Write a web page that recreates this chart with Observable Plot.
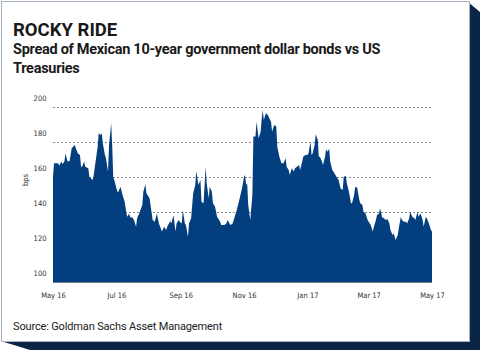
<!DOCTYPE html>
<html>
<head>
<meta charset="utf-8">
<script src="https://cdn.jsdelivr.net/npm/d3@7"></script>
<script src="https://cdn.jsdelivr.net/npm/@observablehq/plot@0.6"></script>
<style>
  html, body { margin: 0; padding: 0; background: #fff; }
  #wrap { position: relative; width: 480px; height: 350px; overflow: hidden; }
  #shadow { position: absolute; left: 0; top: 0; width: 480px; height: 350px; background: #0b2546;
    clip-path: polygon(468px 2px, 480px 12px, 480px 350px, 30px 350px, 4px 342px, 468px 342px); }
  #card { position: absolute; left: 1px; top: 1px; width: 467px; height: 339px; background: #fff;
    border: 1px solid #a7b3c2; }
  .t { position: absolute; left: 13px; color: #1a1a1a; font-family: Roboto, "Open Sans", sans-serif; white-space: nowrap; }
  #title { top: 20.5px; font-size: 18.5px; line-height: 18.5px; font-weight: 700; letter-spacing: 0px; }
  #subtitle { top: 39.5px; font-size: 14.5px; line-height: 19px; font-weight: 700; letter-spacing: -0.28px; }
  #source { top: 320.5px; font-size: 11px; line-height: 11px; font-weight: 400; letter-spacing: -0.15px; }
  #chart { position: absolute; left: 0; top: 95px; }
</style>
</head>
<body>
<div id="wrap">
  <div id="shadow"></div>
  <div id="card"></div>
  <div class="t" id="title">ROCKY RIDE</div>
  <div class="t" id="subtitle">Spread of Mexican 10-year government dollar bonds vs US<br>Treasuries</div>
  <div id="chart"></div>
  <div class="t" id="source">Source: Goldman Sachs Asset Management</div>
</div>
<script>
const dates = [
"2016-05-01","2016-05-02","2016-05-04","2016-05-06","2016-05-07","2016-05-09","2016-05-10","2016-05-12","2016-05-13","2016-05-15",
"2016-05-17","2016-05-19","2016-05-22","2016-05-23","2016-05-25","2016-05-27","2016-05-28","2016-05-29","2016-05-31","2016-06-01",
"2016-06-04","2016-06-05","2016-06-08","2016-06-09","2016-06-11","2016-06-13","2016-06-14","2016-06-16","2016-06-17","2016-06-18",
"2016-06-20","2016-06-21","2016-06-23","2016-06-24","2016-06-26","2016-06-27","2016-06-28","2016-06-29","2016-07-02","2016-07-03",
"2016-07-05","2016-07-07","2016-07-09","2016-07-11","2016-07-12","2016-07-13","2016-07-15","2016-07-16","2016-07-18","2016-07-20",
"2016-07-21","2016-07-23","2016-07-26","2016-07-27","2016-07-29","2016-07-30","2016-08-02","2016-08-05","2016-08-07","2016-08-09",
"2016-08-11","2016-08-14","2016-08-16","2016-08-18","2016-08-19","2016-08-22","2016-08-23","2016-08-25","2016-08-27","2016-08-28",
"2016-08-30","2016-08-31","2016-09-02","2016-09-03","2016-09-05","2016-09-06","2016-09-08","2016-09-09","2016-09-11","2016-09-13",
"2016-09-15","2016-09-16","2016-09-18","2016-09-20","2016-09-21","2016-09-23","2016-09-25","2016-09-26","2016-09-28","2016-09-29",
"2016-10-01","2016-10-02","2016-10-04","2016-10-06","2016-10-07","2016-10-09","2016-10-10","2016-10-13","2016-10-15","2016-10-16",
"2016-10-18","2016-10-19","2016-10-21","2016-10-23","2016-10-25","2016-10-27","2016-10-30","2016-11-01","2016-11-02","2016-11-03",
"2016-11-04","2016-11-05","2016-11-07","2016-11-09","2016-11-10","2016-11-12","2016-11-13","2016-11-15","2016-11-17","2016-11-18",
"2016-11-19","2016-11-20","2016-11-22","2016-11-24","2016-11-26","2016-11-27","2016-11-28","2016-11-30","2016-12-02","2016-12-03",
"2016-12-05","2016-12-07","2016-12-09","2016-12-11","2016-12-12","2016-12-14","2016-12-15","2016-12-17","2016-12-19","2016-12-20",
"2016-12-22","2016-12-24","2016-12-25","2016-12-27","2016-12-28","2016-12-30","2017-01-01","2017-01-02","2017-01-04","2017-01-05",
"2017-01-06","2017-01-08","2017-01-09","2017-01-11","2017-01-12","2017-01-13","2017-01-15","2017-01-16","2017-01-18","2017-01-19",
"2017-01-20","2017-01-22","2017-01-23","2017-01-25","2017-01-26","2017-01-28","2017-01-29","2017-01-31","2017-02-02","2017-02-04",
"2017-02-05","2017-02-07","2017-02-08","2017-02-10","2017-02-12","2017-02-13","2017-02-15","2017-02-16","2017-02-18","2017-02-20",
"2017-02-21","2017-02-23","2017-02-24","2017-02-26","2017-02-28","2017-03-01","2017-03-03","2017-03-05","2017-03-06","2017-03-08",
"2017-03-09","2017-03-11","2017-03-12","2017-03-14","2017-03-16","2017-03-17","2017-03-19","2017-03-21","2017-03-22","2017-03-24",
"2017-03-25","2017-03-27","2017-03-29","2017-03-30","2017-04-01","2017-04-02","2017-04-04","2017-04-06","2017-04-07","2017-04-09",
"2017-04-10","2017-04-12","2017-04-14","2017-04-15","2017-04-17","2017-04-18","2017-04-20","2017-04-22","2017-04-23","2017-04-25",
"2017-04-26","2017-04-28","2017-04-30","2017-05-01"
];
const spreadBps = [
160.2,167.8,167.8,167.8,166.5,168.8,167.4,168.8,173.5,168.8,
169.1,176.4,178.3,176.4,173.5,172.6,165.9,165.9,168.8,165.9,
165.0,160.2,158.3,160.2,168.8,177.3,185.0,184.0,185.0,179.2,
172.6,170.7,163.0,178.3,190.7,178.3,160.2,158.3,151.6,151.6,
154.5,149.7,145.9,138.3,137.3,139.2,136.4,137.3,135.4,131.6,
136.4,139.2,144.0,151.6,155.8,150.7,147.8,135.4,134.5,139.2,
133.5,128.8,131.6,129.7,131.6,134.9,133.5,138.3,128.8,133.5,
135.4,134.5,133.5,141.1,133.5,132.6,125.9,133.5,136.4,150.7,
155.4,163.4,155.4,158.3,145.9,145.0,165.9,156.4,147.8,154.5,
151.6,145.0,143.1,137.3,136.4,134.5,132.6,132.6,133.5,135.4,
133.5,132.6,133.5,137.3,141.1,145.9,153.5,160.2,161.1,155.4,
156.4,144.0,135.4,149.7,183.1,183.1,191.6,182.1,185.9,193.5,
198.3,192.6,196.4,195.4,192.6,191.6,185.9,189.7,188.8,177.3,
171.6,167.8,167.8,170.7,165.9,164.0,161.1,165.0,163.1,165.0,
165.9,166.9,164.0,168.8,171.6,172.6,172.6,173.5,180.2,172.6,
173.5,178.3,184.4,181.1,171.6,171.6,168.8,166.9,171.6,176.0,
174.5,176.0,168.8,164.0,163.1,161.1,160.2,158.3,153.5,152.6,
160.2,160.6,156.4,151.6,145.0,145.0,149.7,154.5,153.9,146.9,
145.0,144.0,140.2,139.2,135.4,134.5,132.6,128.8,131.6,135.4,
138.3,139.2,142.1,136.8,136.4,135.4,136.0,133.5,129.7,126.9,
127.8,124.0,126.9,130.7,137.3,135.4,134.5,134.5,133.5,136.4,
140.2,137.3,136.4,135.4,140.2,137.3,139.2,135.4,131.6,137.3,
136.4,133.5,129.7,128.8
];
const xTickDates = ["2016-05-01","2016-07-01","2016-09-01","2016-11-01","2017-01-01","2017-03-01","2017-05-01"];
const xTickLabels = ["May 16","Jul 16","Sep 16","Nov 16","Jan 17","Mar 17","May 17"];
const yTicks = [100, 120, 140, 160, 180, 200];
const yGrid = [120, 140, 160, 180, 200];
const yDomain = [100, 200];
const yLabel = "bps";

const parse = d3.utcParse("%Y-%m-%d");
const data = dates.map((d, i) => ({date: parse(d), value: spreadBps[i]}));
const xTicks = xTickDates.map(parse);
const labelOf = new Map(xTicks.map((d, i) => [+d, xTickLabels[i]]));

const chart = Plot.plot({
  width: 480,
  height: 215,
  marginLeft: 53,
  marginRight: 48,
  marginTop: 12,
  marginBottom: 28,
  style: {fontFamily: "'Liberation Sans Narrow', 'DejaVu Sans Condensed', sans-serif", fontSize: "7.5px", color: "#333", background: "transparent"},
  x: {type: "utc", domain: [xTicks[0], xTicks[xTicks.length - 1]]},
  y: {domain: yDomain},
  marks: [
    Plot.ruleY(yGrid, {stroke: "#8a8a8a", strokeWidth: 1, strokeDasharray: "2,2"}),
    Plot.areaY(data, {x: "date", y1: yDomain[0], y2: "value", fill: "#033f7e", curve: "linear"}),
    Plot.ruleY([yDomain[0]], {stroke: "#6f7a86", strokeWidth: 1.2}),
    Plot.axisX({ticks: xTicks, tickSize: 0, tickPadding: 10, tickFormat: d => labelOf.get(+d), label: null}),
    Plot.axisY({ticks: yTicks, tickSize: 0, tickPadding: 7, dy: -8.5, tickFormat: d => d, label: null}),
    Plot.text([yLabel], {frameAnchor: "left", text: d => d, rotate: -90, dx: -28, dy: -9, fill: "#333"})
  ]
});
document.getElementById("chart").appendChild(chart);
</script>
</body>
</html>
